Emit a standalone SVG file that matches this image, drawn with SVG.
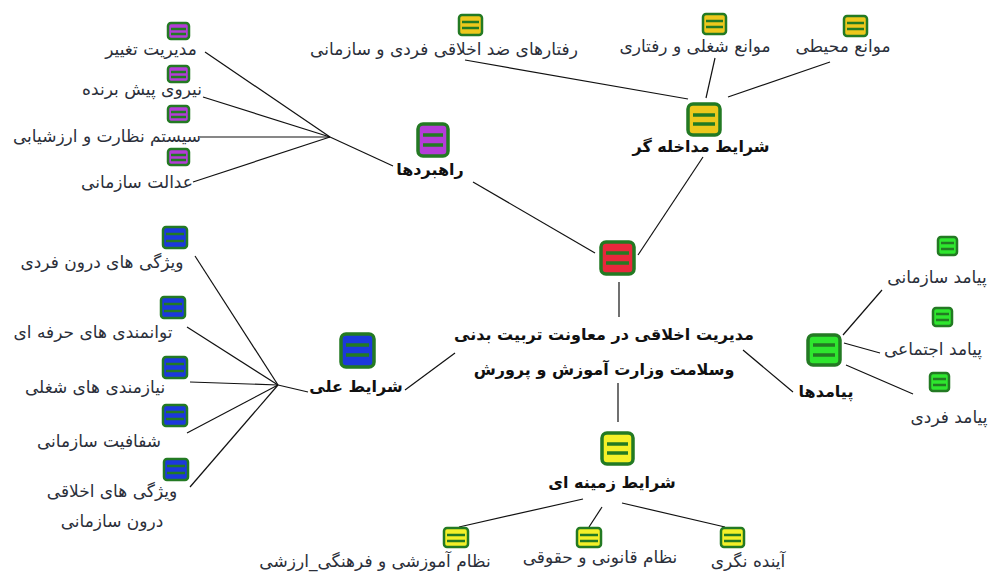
<svg xmlns="http://www.w3.org/2000/svg" width="993" height="574" viewBox="0 0 993 574">
<style>
.bg{fill:#ffffff}
.ic{stroke:#237a23;stroke-width:2.5}
.bar{stroke:#237a23;stroke-width:2.5}
.big{stroke-width:3.5}
.red{fill:#e8283c}
.pur{fill:#b43cd8}
.gold{fill:#eec81c}
.lem{fill:#f4f028}
.blu{fill:#1c38dc}
.grn{fill:#2ee62e}
.lbl{font-family:"DejaVu Sans",sans-serif;font-size:17px;fill:#2b2f3a;text-anchor:middle}
.bld{font-family:"DejaVu Sans",sans-serif;font-size:16px;font-weight:bold;fill:#111;text-anchor:middle}
#connectors line{stroke:#111;stroke-width:1.2;fill:none}
</style>
<rect class="bg" x="0" y="0" width="993" height="574"/>
<g id="connectors">
<line x1="619" y1="282" x2="619" y2="317"/>
<line x1="618" y1="383" x2="618" y2="422"/>
<line x1="638" y1="255" x2="703" y2="157"/>
<line x1="595" y1="253" x2="473" y2="182"/>
<line x1="455" y1="353" x2="405" y2="390"/>
<line x1="743" y1="350" x2="793" y2="392"/>
<line x1="465" y1="60" x2="688" y2="99"/>
<line x1="715" y1="58" x2="706" y2="98"/>
<line x1="830" y1="62" x2="728" y2="97"/>
<line x1="393" y1="166" x2="330" y2="137"/>
<line x1="205" y1="52" x2="330" y2="137"/>
<line x1="203" y1="97" x2="330" y2="137"/>
<line x1="200" y1="137" x2="330" y2="137"/>
<line x1="193" y1="182" x2="330" y2="137"/>
<line x1="308" y1="392" x2="278" y2="385"/>
<line x1="195" y1="256" x2="278" y2="385"/>
<line x1="187" y1="327" x2="278" y2="385"/>
<line x1="190" y1="382" x2="278" y2="385"/>
<line x1="187" y1="433" x2="278" y2="385"/>
<line x1="190" y1="487" x2="278" y2="385"/>
<line x1="843" y1="335" x2="882" y2="290"/>
<line x1="844" y1="343" x2="880" y2="353"/>
<line x1="846" y1="365" x2="913" y2="394"/>
<line x1="459" y1="527" x2="583" y2="499"/>
<line x1="602" y1="507" x2="589" y2="527"/>
<line x1="622" y1="503" x2="725" y2="527"/>
</g>

<g id="central">
<rect class="ic red big" x="601" y="242" width="33" height="32" rx="5"/>
<line class="bar big" x1="606" y1="253" x2="629" y2="253"/>
<line class="bar big" x1="606" y1="263" x2="629" y2="263"/>
<text class="bld" x="604" y="340" font-size="17">مدیریت اخلاقی در معاونت تربیت بدنی</text>
<text class="bld" x="604" y="375" font-size="17">وسلامت وزارت آموزش و پرورش</text>
</g>

<g id="modakhele">
<rect class="ic gold big" x="688" y="104" width="32" height="31" rx="5"/>
<line class="bar big" x1="693" y1="115" x2="715" y2="115"/>
<line class="bar big" x1="693" y1="124" x2="715" y2="124"/>
<text class="bld" x="701" y="152">شرایط مداخله گر</text>
</g>
<g id="raftarha">
<rect class="ic gold" x="459" y="15" width="23" height="20" rx="3"/>
<line class="bar" x1="462" y1="22" x2="479" y2="22"/>
<line class="bar" x1="462" y1="28" x2="479" y2="28"/>
<text class="lbl" x="444" y="55">رفتارهای ضد اخلاقی فردی و سازمانی</text>
</g>
<g id="mavane-shoghli">
<rect class="ic gold" x="703" y="14" width="23" height="20" rx="3"/>
<line class="bar" x1="706" y1="21" x2="723" y2="21"/>
<line class="bar" x1="706" y1="27" x2="723" y2="27"/>
<text class="lbl" x="695" y="52">موانع شغلی و رفتاری</text>
</g>
<g id="mavane-mohiti">
<rect class="ic gold" x="844" y="16" width="23" height="20" rx="3"/>
<line class="bar" x1="847" y1="23" x2="864" y2="23"/>
<line class="bar" x1="847" y1="29" x2="864" y2="29"/>
<text class="lbl" x="843" y="52">موانع محیطی</text>
</g>

<g id="rahbordha">
<rect class="ic pur big" x="418" y="124" width="30" height="32" rx="5"/>
<line class="bar big" x1="423" y1="135" x2="443" y2="135"/>
<line class="bar big" x1="423" y1="145" x2="443" y2="145"/>
<text class="bld" x="430" y="175">راهبردها</text>
</g>
<g id="modiriat-taghir">
<rect class="ic pur" x="168" y="23" width="21" height="16" rx="3"/>
<line class="bar" x1="171" y1="29" x2="186" y2="29"/>
<line class="bar" x1="171" y1="34" x2="186" y2="34"/>
<text class="lbl" x="151" y="55">مدیریت تغییر</text>
</g>
<g id="niroo">
<rect class="ic pur" x="168" y="66" width="21" height="16" rx="3"/>
<line class="bar" x1="171" y1="72" x2="186" y2="72"/>
<line class="bar" x1="171" y1="77" x2="186" y2="77"/>
<text class="lbl" x="142" y="95">نیروی پیش برنده</text>
</g>
<g id="system">
<rect class="ic pur" x="168" y="106" width="21" height="16" rx="3"/>
<line class="bar" x1="171" y1="112" x2="186" y2="112"/>
<line class="bar" x1="171" y1="117" x2="186" y2="117"/>
<text class="lbl" x="107" y="142">سیستم نظارت و ارزشیابی</text>
</g>
<g id="edalat">
<rect class="ic pur" x="168" y="149" width="21" height="16" rx="3"/>
<line class="bar" x1="171" y1="155" x2="186" y2="155"/>
<line class="bar" x1="171" y1="160" x2="186" y2="160"/>
<text class="lbl" x="137" y="188">عدالت سازمانی</text>
</g>

<g id="sharayet-elli">
<rect class="ic blu big" x="341" y="334" width="33" height="33" rx="5"/>
<line class="bar big" x1="346" y1="345" x2="369" y2="345"/>
<line class="bar big" x1="346" y1="355" x2="369" y2="355"/>
<text class="bld" x="356" y="392">شرایط علی</text>
</g>
<g id="vijegi-fardi">
<rect class="ic blu" x="163" y="227" width="24" height="21" rx="3"/>
<line class="bar" x1="166" y1="234" x2="184" y2="234"/>
<line class="bar" x1="166" y1="241" x2="184" y2="241"/>
<text class="lbl" x="102" y="268">ویژگی های درون فردی</text>
</g>
<g id="tavanmandi">
<rect class="ic blu" x="161" y="297" width="24" height="21" rx="3"/>
<line class="bar" x1="164" y1="304" x2="182" y2="304"/>
<line class="bar" x1="164" y1="311" x2="182" y2="311"/>
<text class="lbl" x="93" y="338">توانمندی های حرفه ای</text>
</g>
<g id="niazmandi">
<rect class="ic blu" x="163" y="357" width="24" height="21" rx="3"/>
<line class="bar" x1="166" y1="364" x2="184" y2="364"/>
<line class="bar" x1="166" y1="371" x2="184" y2="371"/>
<text class="lbl" x="95" y="393">نیازمندی های شغلی</text>
</g>
<g id="shafafiat">
<rect class="ic blu" x="163" y="405" width="24" height="21" rx="3"/>
<line class="bar" x1="166" y1="412" x2="184" y2="412"/>
<line class="bar" x1="166" y1="419" x2="184" y2="419"/>
<text class="lbl" x="99" y="447">شفافیت سازمانی</text>
</g>
<g id="vijegi-akhlaghi">
<rect class="ic blu" x="164" y="459" width="24" height="21" rx="3"/>
<line class="bar" x1="167" y1="466" x2="185" y2="466"/>
<line class="bar" x1="167" y1="473" x2="185" y2="473"/>
<text class="lbl" x="112" y="497">ویژگی های اخلاقی</text>
<text class="lbl" x="112" y="527">درون سازمانی</text>
</g>

<g id="payamadha">
<rect class="ic grn big" x="808" y="335" width="32" height="30" rx="5"/>
<line class="bar big" x1="813" y1="345" x2="835" y2="345"/>
<line class="bar big" x1="813" y1="355" x2="835" y2="355"/>
<text class="bld" x="826" y="397">پیامدها</text>
</g>
<g id="payamad-sazmani">
<rect class="ic grn" x="938" y="237" width="19" height="18" rx="3"/>
<line class="bar" x1="941" y1="243" x2="954" y2="243"/>
<line class="bar" x1="941" y1="249" x2="954" y2="249"/>
<text class="lbl" x="937" y="283">پیامد سازمانی</text>
</g>
<g id="payamad-ejtemai">
<rect class="ic grn" x="933" y="308" width="19" height="18" rx="3"/>
<line class="bar" x1="936" y1="314" x2="949" y2="314"/>
<line class="bar" x1="936" y1="320" x2="949" y2="320"/>
<text class="lbl" x="933" y="355">پیامد اجتماعی</text>
</g>
<g id="payamad-fardi">
<rect class="ic grn" x="930" y="373" width="19" height="18" rx="3"/>
<line class="bar" x1="933" y1="379" x2="946" y2="379"/>
<line class="bar" x1="933" y1="385" x2="946" y2="385"/>
<text class="lbl" x="949" y="423">پیامد فردی</text>
</g>

<g id="zamineh">
<rect class="ic lem big" x="602" y="433" width="31" height="31" rx="5"/>
<line class="bar big" x1="607" y1="444" x2="628" y2="444"/>
<line class="bar big" x1="607" y1="453" x2="628" y2="453"/>
<text class="bld" x="612" y="488">شرایط زمینه ای</text>
</g>
<g id="nezam-amoozeshi">
<rect class="ic lem" x="444" y="528" width="24" height="19" rx="3"/>
<line class="bar" x1="447" y1="535" x2="465" y2="535"/>
<line class="bar" x1="447" y1="541" x2="465" y2="541"/>
<text class="lbl" x="375" y="567">نظام آموزشی و فرهنگی_ارزشی</text>
</g>
<g id="nezam-ghanooni">
<rect class="ic lem" x="577" y="528" width="24" height="19" rx="3"/>
<line class="bar" x1="580" y1="535" x2="598" y2="535"/>
<line class="bar" x1="580" y1="541" x2="598" y2="541"/>
<text class="lbl" x="600" y="563">نظام قانونی و حقوقی</text>
</g>
<g id="ayandeh">
<rect class="ic lem" x="721" y="528" width="23" height="19" rx="3"/>
<line class="bar" x1="724" y1="535" x2="741" y2="535"/>
<line class="bar" x1="724" y1="541" x2="741" y2="541"/>
<text class="lbl" x="748" y="567">آینده نگری</text>
</g>
</svg>
